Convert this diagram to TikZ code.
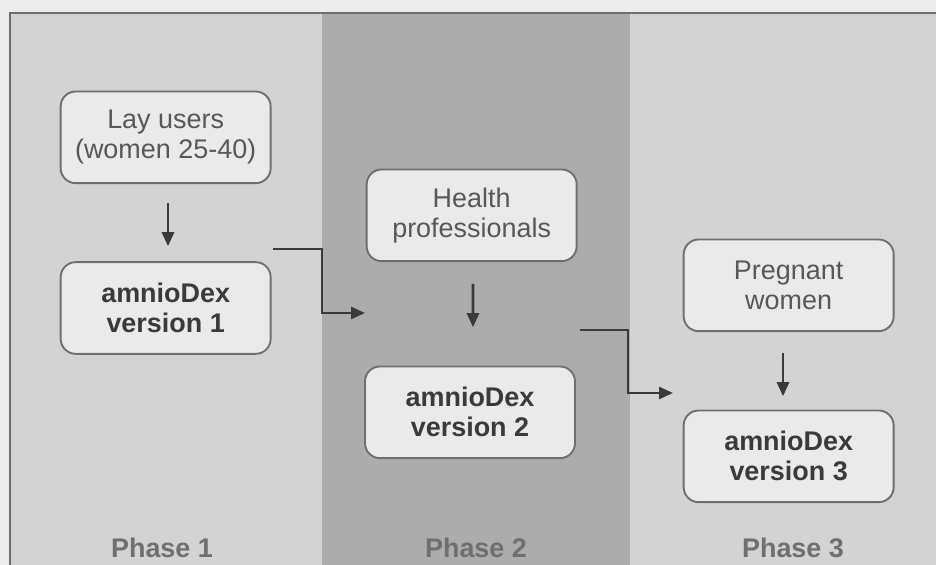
\documentclass[tikz,border=0pt]{standalone}
\usepackage{fontspec}
\setmainfont{Liberation Sans}
\usepackage{xcolor}
\usetikzlibrary{arrows.meta}
\definecolor{paper}{HTML}{ECECEC}
\definecolor{lightcol}{HTML}{D3D3D3}
\definecolor{darkcol}{HTML}{ACACAC}
\definecolor{boxfill}{HTML}{EAEAEA}
\definecolor{boxline}{HTML}{6E6E6E}
\definecolor{ink}{HTML}{3A3A3A}
\definecolor{softink}{HTML}{575757}
\definecolor{phaseink}{HTML}{6F6F6F}

\begin{document}
\begin{tikzpicture}[thick]

	\tikzstyle{stage} = [draw=boxline,line width=1.6pt,fill=boxfill,rounded corners=0.45cm,minimum width=6.3cm,minimum height=2.75cm,align=center]
	\tikzstyle{group} = [stage,text=softink,font=\fontsize{23}{25.6}\selectfont]
	\tikzstyle{tool} = [stage,text=ink,font=\fontsize{23}{25.6}\selectfont\bfseries]
	\tikzstyle{phase} = [text=phaseink,font=\fontsize{23}{25.6}\selectfont\bfseries]
	\tikzstyle{flow} = [draw=ink,line width=2.3pt,-{Triangle[length=0.42cm,width=0.36cm]}]

	\useasboundingbox (0,0) rectangle (28.08,16.95);
	\fill[paper] (0,0) rectangle (28.08,16.95);

	% Phase columns
	\fill[lightcol] (0.30,0) rectangle (9.66,16.56);
	\fill[darkcol] (9.66,0) rectangle (18.90,16.56);
	\fill[lightcol] (18.90,0) rectangle (28.08,16.56);
	\draw[boxline,line width=1.8pt] (0.30,0) -- (0.30,16.56) -- (28.08,16.56);

	% Phase 1
	\node[group] (lay) at (4.97,12.83) {Lay users\\(women 25-40)};
	\node[tool] (v1) at (4.97,7.71) {amnioDex\\version 1};
	\node[phase] (ph1) at (4.86,0.52) {Phase 1};

	% Phase 2
	\node[group] (health) at (14.15,10.49) {Health\\professionals};
	\node[tool] (v2) at (14.10,4.58) {amnioDex\\version 2};
	\node[phase] (ph2) at (14.28,0.52) {Phase 2};

	% Phase 3
	\node[group] (preg) at (23.66,8.39) {Pregnant\\women};
	\node[tool] (v3) at (23.66,3.26) {amnioDex\\version 3};
	\node[phase] (ph3) at (23.79,0.52) {Phase 3};

	% Vertical arrows
	\draw[flow,shorten <=0.57cm,shorten >=0.45cm] ([xshift=0.07cm]lay.south) -- ([xshift=0.07cm]v1.north);
	\draw[flow,shorten <=0.65cm,shorten >=1.15cm] ([xshift=0.04cm]health.south) -- ([xshift=0.09cm]v2.north);
	\draw[flow,shorten <=0.62cm,shorten >=0.40cm] ([xshift=-0.17cm]preg.south) -- ([xshift=-0.17cm]v3.north);

	% Define coordinates
	\coordinate (out1) at (8.19,9.48);
	\coordinate (turn1) at (9.66,7.56);
	\coordinate (in2) at (10.95,7.56);
	\coordinate (out2) at (17.40,7.05);
	\coordinate (turn2) at (18.84,5.16);
	\coordinate (in3) at (20.19,5.16);

	% Elbow connectors
	\draw[flow] (out1) -| (turn1) -- (in2);
	\draw[flow] (out2) -| (turn2) -- (in3);

\end{tikzpicture}
\end{document}
